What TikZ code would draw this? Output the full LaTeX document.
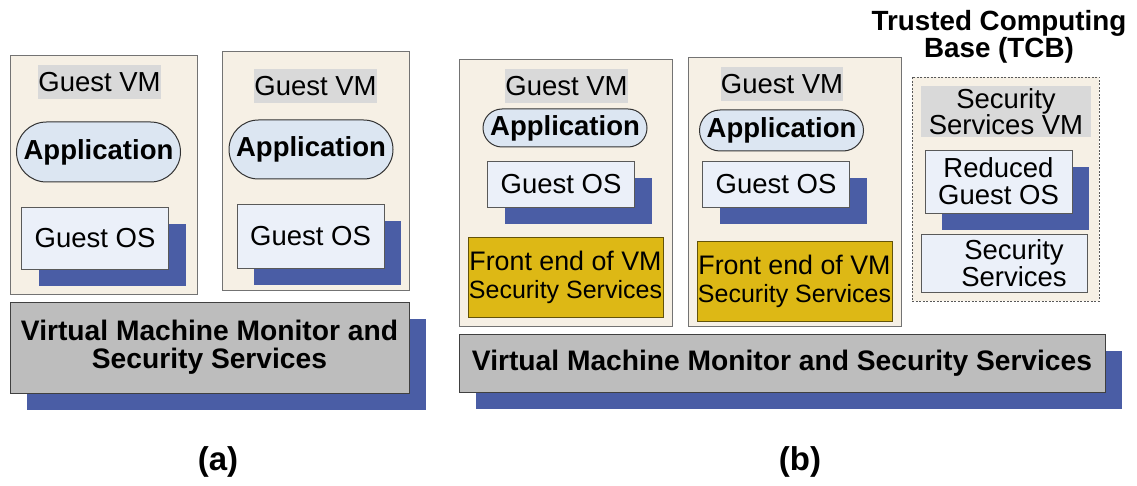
\documentclass[tikz,border=0pt]{standalone}
\usepackage{fontspec}
\setmainfont{Liberation Sans}
\usepackage{tikz}
\usetikzlibrary{shapes.misc,shadows}

\definecolor{vmbeige}{HTML}{F6F0E5}
\definecolor{labelgray}{HTML}{D9D9D9}
\definecolor{appblue}{HTML}{DCE6F2}
\definecolor{osblue}{HTML}{EBF0F9}
\definecolor{shadowblue}{HTML}{4A5DA5}
\definecolor{frontgold}{HTML}{DDB815}
\definecolor{vmmgray}{HTML}{BDBDBD}

\tikzset{
  every vm/.style={draw=black!55, line width=1pt, fill=vmbeige, inner sep=0pt},
  blue shadow/.style={general shadow={shadow xshift=17pt, shadow yshift=-17pt, fill=shadowblue}},
  vm label/.style={fill=labelgray, inner sep=0pt, minimum width=119, minimum height=34,
    align=center, font=\fontsize{27.5}{25}\selectfont},
  app/.style={rounded rectangle, draw=black!80, line width=1pt, fill=appblue, inner sep=0pt,
    minimum width=164, font=\fontsize{27.5}{28}\bfseries\selectfont},
  os box/.style={draw=black!65, line width=0.8pt, fill=osblue, inner sep=0pt, minimum width=147,
    align=center, font=\fontsize{27.5}{27}\selectfont},
  os/.style={os box, blue shadow},
  front end/.style={draw=black!55!frontgold, line width=0.8pt, fill=frontgold, inner sep=0pt,
    minimum width=195, minimum height=80, align=center, font=\fontsize{25}{28}\selectfont},
  vmm/.style={draw=black!75, line width=1pt, fill=vmmgray, inner sep=0pt, blue shadow,
    align=center, font=\fontsize{28.2}{28}\bfseries\selectfont},
  tcb/.style={draw=black!65, dash pattern=on 2pt off 1.5pt, line width=0.8pt, fill=vmbeige, inner sep=0pt},
  caption/.style={inner sep=0pt, font=\fontsize{33}{33}\bfseries\selectfont}
}

\begin{document}
\begin{tikzpicture}[x=1pt, y=-1pt]
\useasboundingbox (0,0) rectangle (1137,486);

% guest VMs, (a) then (b)
\foreach \n/\x/\y/\w/\h in {a1/103.5/175/187/238, a2/315.5/171/187/238,
                            b1/565.5/193/213/266, b2/794.5/192/213/268}
  \node [every vm, minimum width=\w, minimum height=\h] (vm-\n) at (\x,\y) {};

\foreach \n/\x/\y in {a1/99.5/82, a2/315.5/86, b1/566.5/86, b2/782/84}
  \node [vm label] (label-\n) at (\x,\y) {Guest VM};

\foreach \n/\x/\y/\h in {a1/98.5/152/60, a2/311/149.5/59, b1/565/128/38, b2/781.5/130.5/41}
  \node [app, minimum height=\h] (app-\n) at (\x,\y) {Application};

\foreach \n/\x/\y/\h in {a1/95/238/62, a2/310.5/236/64, b1/561/184/46, b2/776/184/46}
  \node [os, minimum height=\h] (os-\n) at (\x,\y) {Guest OS};

\foreach \n/\x/\y in {b1/565.5/277, b2/794.5/281.5}
  \node [front end] (front-\n) at (\x,\y)
    {{\fontsize{26.8}{28}\selectfont Front end of VM}\\Security Services};

% monitors
\node [vmm, minimum width=399, minimum height=91] (vmm-a) at (209.5,347.5)
  {Virtual Machine Monitor and\\Security Services};
\node [vmm, minimum width=646, minimum height=58] (vmm-b) at (782,363)
  {Virtual Machine Monitor and Security Services};

% trusted computing base
\node [tcb, minimum width=187, minimum height=224] (tcb) at (1005.5,189) {};
\node [align=center, inner sep=0pt, font=\fontsize{27.8}{25}\bfseries\selectfont]
  (tcb-title) at (999,37) {Trusted Computing\\Base (TCB)};
\node [vm label, minimum width=170, minimum height=51] (label-tcb) at (1006,111.5)
  {Security\\Services VM};
\node [os, minimum height=63] (os-tcb) at (998.5,181.5) {Reduced\\Guest OS};
\node [os box, minimum width=166, minimum height=58] (services) at (1004,263)
  {\hspace*{20pt}Security\\\hspace*{20pt}Services};

\node [caption] (cap-a) at (218,462) {(a)};
\node [caption] (cap-b) at (800,462) {(b)};
\end{tikzpicture}
\end{document}
